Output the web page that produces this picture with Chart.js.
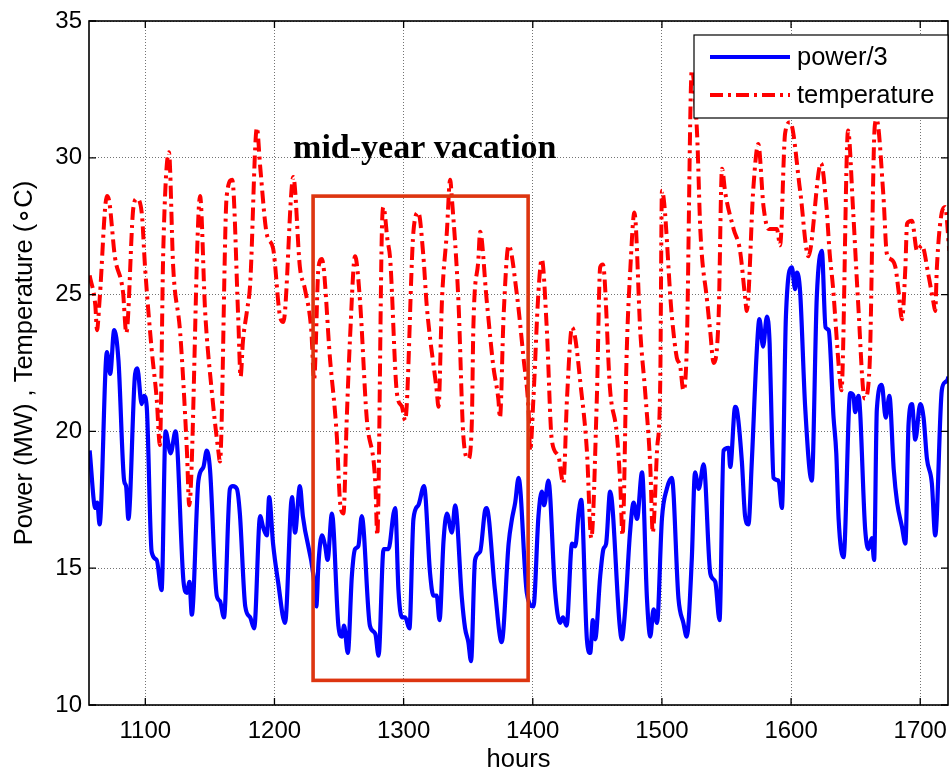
<!DOCTYPE html>
<html>
<head>
<meta charset="utf-8">
<script src="https://cdn.jsdelivr.net/npm/chart.js@4.4.1/dist/chart.umd.min.js"></script>
<style>
html,body{margin:0;padding:0;background:#fff;}
canvas{display:block;}
</style>
</head>
<body>
<canvas id="c" width="950" height="773"></canvas>
<script>
// ---------------- data ----------------
const seriesLabels = ['power/3', 'temperature'];
const xTickValues = [1100, 1200, 1300, 1400, 1500, 1600, 1700];
const yTickValues = [10, 15, 20, 25, 30, 35];
const xRange = [1056.4, 1721.5];
const yRange = [10, 35];

const powerHours = [
1056.9,1061.3,1062.8,1064.6,1070.3,1072.8,1075.9,1079.2,1083.6,1085.1,1086.9,1092.1,1093.8,1097.2,1099.0,1101.1,1104.9,1108.8,1112.6,1115.7,1119.6,1123.4,
1129.6,1132.2,1134.2,1136.0,1141.1,1145.0,1147.6,1150.1,1155.3,1157.8,1160.9,1165.5,1167.8,1170.9,1173.2,
1177.4,1181.2,1184.3,1188.9,1191.2,1194.1,1195.9,1198.9,1202.8,1208.2,1213.6,1215.9,1219.7,1222.0,
1230.3,1232.4,1234.1,1236.7,1239.3,1241.1,1244.5,1249.5,1252.2,1253.9,1256.8,1259.9,1262.4,1264.9,1267.6,1273.9,
1278.1,1280.6,1284.5,1288.3,1292.2,1293.5,1296.0,1298.7,1301.2,1304.5,1307.6,1311.4,1315.8,1320.5,1323.0,1325.6,
1327.8,1330.9,1333.5,1337.4,1339.9,1345.1,1347.6,1350.1,1352.2,1355.3,1359.2,1363.0,1364.3,1370.7,1375.9,
1381.3,1383.9,1386.4,1389.0,1395.4,1400.5,1404.4,1407.0,1408.8,1412.1,1417.2,1421.1,1423.4,1426.2,
1430.4,1432.9,1435.5,1437.5,1441.9,1444.5,1446.5,1448.3,1452.2,1454.7,1456.8,1459.9,1467.3,1468.9,1471.4,1475.3,
1478.1,1480.7,1484.6,1488.4,1491.0,1493.5,1496.2,1500.0,1503.8,1507.7,1512.8,1516.6,1519.2,1523.1,1525.6,
1528.5,1532.3,1537.5,1541.3,1544.6,1547.7,1551.6,1552.9,1556.7,1558.0,1561.9,1564.4,1567.0,1569.6,1573.5,1575.5,
1578.3,1581.3,1583.4,1585.2,1586.4,1590.3,1592.9,1596.0,1600.6,1603.1,1604.5,1607.0,1610.9,1616.0,1619.9,1623.8,
1626.7,1629.1,1632.9,1635.0,1636.8,1640.6,1645.8,1648.3,1649.6,1652.2,1657.4,1659.9,1662.5,1664.3,1666.4,1670.2,1673.3,1676.1,
1679.5,1682.1,1685.9,1688.5,1691.0,1693.6,1696.2,1700.0,1702.6,1705.2,1709.0,1711.6,1716.7,1719.3,1721.8,1723.0
];
const powerValues = [
19.3,17.2,17.4,16.6,22.9,22.1,23.7,22.6,18.2,18.0,16.8,22.1,22.3,21.0,21.3,20.9,15.6,15.3,14.2,20.0,19.2,20.0,
14.5,14.1,14.5,13.3,18.2,18.7,19.3,18.6,14.0,13.8,13.2,17.9,18.0,17.9,17.0,
13.6,13.2,12.8,16.9,16.5,16.2,17.6,15.9,14.5,13.0,17.6,16.3,18.0,16.9,
14.7,13.6,15.2,16.2,15.8,15.3,17.0,12.9,12.5,12.9,11.9,14.7,15.7,15.8,16.9,12.9,
12.6,11.8,15.7,15.7,17.0,17.2,14.2,13.2,13.2,12.8,16.8,17.3,18.0,14.8,14.0,14.0,
13.1,16.0,17.0,16.3,17.3,13.9,12.8,12.3,11.6,15.3,15.6,17.1,17.2,14.2,12.3,
15.9,16.8,17.4,18.3,14.1,13.6,16.9,17.8,17.3,18.2,14.2,13.0,13.2,12.9,
15.9,15.8,17.0,17.5,12.4,11.9,13.1,12.4,14.7,15.7,15.9,17.8,12.9,12.4,13.4,16.3,
17.4,16.8,18.5,13.9,12.5,13.5,13.0,16.8,17.9,18.3,13.9,13.0,12.5,15.3,18.5,
17.9,18.8,14.8,14.5,13.1,19.3,19.4,18.7,20.9,20.8,18.9,16.9,16.6,18.9,23.0,24.1,
23.1,24.2,23.2,19.8,18.3,18.2,17.2,24.2,26.0,25.2,25.8,25.1,20.9,18.2,24.9,26.6,
23.8,23.7,20.5,19.2,16.8,15.4,21.4,21.3,20.7,21.3,16.4,15.7,16.1,15.3,20.8,21.7,20.5,21.3,
18.6,17.4,16.5,15.9,20.3,21.0,19.7,21.0,20.5,19.0,18.1,16.2,21.5,21.8,22.0,22.8
];

const tempHours = [
1056.9,1061.3,1062.6,1064.6,1070.3,1072.1,1076.4,1082.7,1085.3,1090.8,1093.4,1097.2,1099.8,1104.9,1108.8,1111.3,1113.9,1118.3,1121.6,
1127.0,1132.2,1134.0,1142.4,1146.3,1151.4,1156.5,1157.8,1163.0,1167.3,1171.9,1173.8,
1175.6,1178.7,1181.2,1186.4,1188.9,1194.1,1198.9,1204.3,1206.9,1214.6,1219.7,1223.6,
1228.5,1230.7,1234.1,1236.7,1243.1,1248.3,1250.8,1253.4,1256.0,1258.5,1262.4,1266.2,1271.4,
1278.1,1279.6,1283.2,1284.4,1287.5,1289.6,1294.8,1298.7,1301.2,1307.6,1311.4,1315.3,1317.9,1325.6,
1327.0,1329.7,1333.5,1336.0,1337.4,1342.4,1346.3,1350.1,1352.8,1354.0,1357.9,1359.2,1364.3,1369.4,1373.3,1374.6,
1377.4,1381.3,1387.7,1392.8,1396.7,1398.0,1400.5,1404.4,1407.0,1410.8,1414.7,1419.8,1423.7,
1426.5,1430.4,1432.9,1436.8,1441.9,1445.3,1449.6,1452.2,1454.3,1459.9,1465.1,1467.7,1469.5,1472.8,
1475.6,1478.7,1483.3,1487.1,1491.0,1492.9,1496.2,1498.7,1500.0,1507.7,1511.5,1514.1,1516.6,1519.2,1523.1,
1527.2,1529.8,1534.9,1537.5,1540.0,1543.9,1546.5,1549.1,1555.5,1560.5,1564.4,1565.7,1570.8,1574.6,
1578.7,1582.5,1589.0,1591.5,1595.4,1599.3,1607.0,1613.4,1623.2,
1627.4,1629.9,1632.4,1637.6,1639.0,1644.1,1648.0,1651.8,1657.0,1660.8,1664.7,1666.2,1671.5,1674.1,
1676.9,1680.8,1683.3,1685.9,1688.5,1689.8,1693.6,1697.5,1701.3,1706.4,1710.3,1711.6,1712.9,1716.7,1719.3,1722.5
];
const tempValues = [
25.7,24.6,23.7,24.8,28.6,28.4,26.4,25.1,23.6,28.2,28.5,28.0,26.0,23.0,21.2,19.5,26.6,30.2,26.0,
23.6,19.3,17.3,28.6,24.4,21.5,19.3,18.9,28.6,29.2,24.2,22.0,
23.3,24.4,25.4,31.1,29.7,27.2,26.7,24.2,24.0,29.3,26.0,25.2,
23.7,21.9,26.0,26.3,22.6,19.8,17.4,17.0,20.5,23.4,26.4,24.8,20.5,
18.1,16.2,27.4,28.2,27.0,26.3,21.4,20.9,20.4,27.3,28.0,26.4,24.6,21.5,
20.9,24.8,27.3,29.2,28.5,24.8,19.8,19.0,20.3,23.8,26.3,27.3,24.8,22.4,21.2,20.5,
24.2,26.8,25.0,22.7,20.8,19.3,21.2,25.1,26.3,23.8,19.7,19.1,18.1,
21.2,23.8,23.4,21.8,19.3,16.1,21.2,26.0,26.1,21.5,19.9,18.1,16.2,23.0,
26.0,28.0,23.6,21.4,18.7,16.3,19.3,21.8,28.8,24.2,22.7,22.4,21.5,23.0,33.2,
30.9,27.3,24.8,23.6,22.5,24.2,29.6,28.7,27.4,26.6,24.9,24.4,28.9,30.5,
28.2,27.4,27.4,26.8,30.9,31.3,28.8,26.4,29.8,
28.2,26.5,25.3,22.0,21.5,31.0,28.1,24.8,21.2,22.4,31.1,31.4,28.6,26.5,
26.3,26.0,25.1,24.1,26.0,27.6,27.7,26.6,26.8,25.7,24.7,24.4,26.0,28.0,28.2,26.6
];

// annotation (data coordinates)
const vacationBox = { startHour: 1229.9, endHour: 1396.4, low: 10.9, high: 28.6 };
const vacationLabel = { text: 'mid-year vacation', hour: 1214.4, value: 30 };

// ---------------- chart ----------------
const SANS = "'Liberation Sans', Arial, Helvetica, sans-serif";
const toPoints = (xs, ys) => xs.map((x, i) => ({ x: x, y: ys[i] }));

const overlayPlugin = {
  id: 'overlay',
  afterDatasetsDraw(chart) {
    const { ctx, chartArea: a, scales: { x, y } } = chart;
    ctx.save();
    // vacation rectangle
    const bx0 = x.getPixelForValue(vacationBox.startHour);
    const bx1 = x.getPixelForValue(vacationBox.endHour);
    const by0 = y.getPixelForValue(vacationBox.high);
    const by1 = y.getPixelForValue(vacationBox.low);
    ctx.strokeStyle = '#dd3510';
    ctx.lineWidth = 3.6;
    ctx.strokeRect(bx0, by0, bx1 - bx0, by1 - by0);
    // label
    ctx.font = "bold 34px 'Liberation Serif', 'Times New Roman', serif";
    ctx.fillStyle = '#000';
    ctx.textAlign = 'left';
    ctx.textBaseline = 'alphabetic';
    ctx.fillText(vacationLabel.text, x.getPixelForValue(vacationLabel.hour), y.getPixelForValue(vacationLabel.value));

    // axes frame
    ctx.strokeStyle = '#000';
    ctx.lineWidth = 1.6;
    ctx.strokeRect(a.left, a.top, a.right - a.left, a.bottom - a.top);
    // inward ticks on all four sides
    const tl = 7;
    ctx.lineWidth = 1.3;
    ctx.beginPath();
    xTickValues.forEach(v => {
      const px = x.getPixelForValue(v);
      ctx.moveTo(px, a.bottom); ctx.lineTo(px, a.bottom - tl);
      ctx.moveTo(px, a.top); ctx.lineTo(px, a.top + tl);
    });
    yTickValues.forEach(v => {
      const py = y.getPixelForValue(v);
      ctx.moveTo(a.left, py); ctx.lineTo(a.left + tl, py);
      ctx.moveTo(a.right, py); ctx.lineTo(a.right - tl, py);
    });
    ctx.stroke();

    // legend box
    const lx1 = a.right, lx0 = a.right - 254, ly0 = a.top + 14, ly1 = a.top + 97;
    ctx.fillStyle = '#fff';
    ctx.fillRect(lx0, ly0, lx1 - lx0, ly1 - ly0);
    ctx.strokeStyle = '#000';
    ctx.lineWidth = 1.2;
    ctx.strokeRect(lx0, ly0, lx1 - lx0, ly1 - ly0);
    const rows = [ly0 + 22, ly0 + 60];
    chart.data.datasets.forEach((ds, i) => {
      const ry = rows[i];
      ctx.save();
      ctx.strokeStyle = ds.borderColor;
      ctx.lineWidth = ds.borderWidth;
      ctx.setLineDash(ds.borderDash || []);
      ctx.beginPath();
      ctx.moveTo(lx0 + 16, ry);
      ctx.lineTo(lx0 + 96, ry);
      ctx.stroke();
      ctx.restore();
      ctx.fillStyle = '#000';
      ctx.font = '25.5px ' + SANS;
      ctx.textAlign = 'left';
      ctx.textBaseline = 'middle';
      ctx.fillText(ds.label, lx0 + 103, ry + 1);
    });
    ctx.restore();
  }
};

new Chart(document.getElementById('c').getContext('2d'), {
  type: 'line',
  data: {
    datasets: [
      {
        label: seriesLabels[0],
        data: toPoints(powerHours, powerValues),
        borderColor: '#0000ff',
        borderWidth: 4.2,
        pointRadius: 0,
        cubicInterpolationMode: 'monotone',
        borderJoinStyle: 'round',
        clip: 0,
        order: 2
      },
      {
        label: seriesLabels[1],
        data: toPoints(tempHours, tempValues),
        borderColor: '#ff0000',
        borderWidth: 4,
        borderDash: [13, 5, 3, 5],
        pointRadius: 0,
        cubicInterpolationMode: 'monotone',
        clip: 0,
        order: 1
      }
    ]
  },
  options: {
    responsive: false,
    animation: false,
    devicePixelRatio: 1,
    layout: { padding: { top: 21, right: 2, left: 0, bottom: 0 } },
    plugins: { legend: { display: false }, tooltip: { enabled: false } },
    scales: {
      x: {
        type: 'linear',
        min: xRange[0],
        max: xRange[1],
        afterBuildTicks: s => { s.ticks = xTickValues.map(v => ({ value: v })); },
        afterFit: s => { s.height = 68; s.paddingLeft = 0; s.paddingRight = 0; },
        ticks: { font: { size: 24, family: SANS }, color: '#000', padding: 12, maxRotation: 0, autoSkip: false, callback: v => String(v) },
        grid: { color: 'rgba(0,0,0,0.55)', lineWidth: 1, drawTicks: false },
        border: { display: false, dash: [1, 2] },
        title: { display: true, text: 'hours', color: '#000', font: { size: 25.5, family: SANS, lineHeight: 1 }, padding: { top: 0, bottom: 0 } }
      },
      y: {
        type: 'linear',
        min: yRange[0],
        max: yRange[1],
        afterBuildTicks: s => { s.ticks = yTickValues.map(v => ({ value: v })); },
        afterFit: s => { s.width = 89; s.paddingTop = 0; s.paddingBottom = 0; },
        ticks: { font: { size: 24, family: SANS }, color: '#000', padding: 7, autoSkip: false, callback: v => String(v) },
        grid: { color: 'rgba(0,0,0,0.55)', lineWidth: 1, drawTicks: false },
        border: { display: false, dash: [1, 2] },
        title: { display: true, text: 'Power (MW) , Temperature (\u2218C)', color: '#000', font: { size: 25.5, family: SANS, lineHeight: 1 }, padding: { top: 12, bottom: 0 } }
      }
    }
  },
  plugins: [overlayPlugin]
});
</script>
</body>
</html>
